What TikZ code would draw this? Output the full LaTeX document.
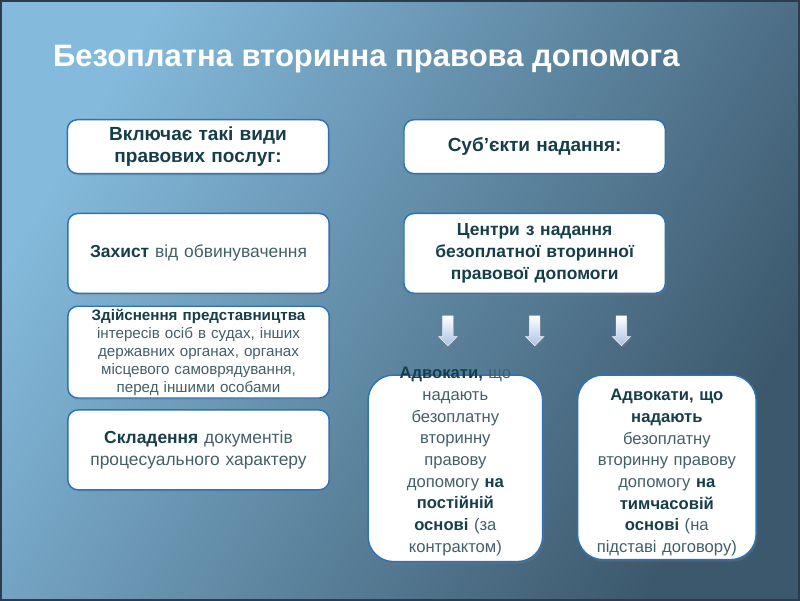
\documentclass[tikz,border=0pt]{standalone}
\usepackage{fontspec}
\setmainfont{Liberation Sans}
\usetikzlibrary{shapes.arrows,shadows}

\definecolor{bgLight}{RGB}{132,186,220}
\definecolor{bgDark}{RGB}{60,88,108}
\definecolor{frameDark}{RGB}{44,60,76}
\definecolor{boxBlue}{RGB}{44,114,184}
\definecolor{textTeal}{RGB}{66,96,106}
\definecolor{boldTeal}{RGB}{22,62,74}
\definecolor{arrowBlue}{RGB}{172,192,230}

\newcommand{\hb}[1]{\textbf{\color{boldTeal}#1}}

\begin{document}
\begin{tikzpicture}[
                x=0.75pt, y=-0.75pt,
                box/.style={draw=boxBlue, line width=1.1pt, fill=white, rounded corners=7.5pt,
                    align=center, text=textTeal, inner sep=2pt, text width=192pt,
                    minimum width=196.5pt, minimum height=60pt,
                    font=\fontsize{13.1}{16.5}\selectfont,
                    drop shadow={opacity=0.3, shadow xshift=1pt, shadow yshift=-1.5pt}},
                headbox/.style={box, minimum height=40.5pt, font=\fontsize{14.3}{16.5}\selectfont},
                bigbox/.style={draw=boxBlue, line width=1.1pt, fill=white, rounded corners=19pt,
                    drop shadow={opacity=0.3, shadow xshift=1pt, shadow yshift=-1.5pt}},
                bigtext/.style={align=center, text=textTeal, inner sep=0pt, text width=150pt,
                    font=\fontsize{12.5}{16.3}\selectfont},
                downarrow/.style={single arrow, shape border rotate=270, inner sep=3.75pt,
                    minimum height=22.5pt, minimum width=13.5pt,
                    single arrow head extend=3pt, single arrow tip angle=90,
                    top color=white, bottom color=arrowBlue, draw=white!80!arrowBlue, line width=0.4pt,
                    drop shadow={opacity=0.35, shadow xshift=1pt, shadow yshift=-1.5pt}}
            ]

                % Background of the slide
                \shade[top color=bgLight, bottom color=bgDark, shading angle=60] (0,0) rectangle (800,600);
                \draw[frameDark, line width=1.5pt] (0,0) rectangle (800,600);

                % Title
                \node[anchor=base west, text=white, inner sep=0pt, font=\fontsize{23.3}{27}\selectfont\bfseries]
                    (title) at (52,66) {Безоплатна вторинна правова допомога};

                % Left column: kinds of legal services
                \node[headbox] (kinds) at (197.5,146) {\hb{Включає такі види}\\ \hb{правових послуг:}};
                \node[box] (defence) at (198,253) {\hb{Захист} від обвинувачення};
                \node[box, minimum height=69pt, font=\fontsize{11.4}{13.5}\selectfont] (repr) at (198,352)
                    {\hb{Здійснення представництва}\\ інтересів осіб в судах, інших\\ державних органах, органах\\
                     місцевого самоврядування,\\ перед іншими особами};
                \node[box] (docs) at (198,450) {\hb{Складення} документів\\ процесуального характеру};

                % Right column: who provides it
                \node[headbox] (subjects) at (535,146) {\hb{Суб’єкти надання:}};
                \node[box] (centres) at (535,253)
                    {\hb{Центри з надання}\\ \hb{безоплатної вторинної}\\ \hb{правової допомоги}};

                % Arrows below the centres
                \node[downarrow] (arr1) at (448,328) {};
                \node[downarrow] (arr2) at (535,328) {};
                \node[downarrow] (arr3) at (622,328) {};

                % Advocates: permanent and temporary
                \node[bigbox, minimum width=131.25pt, minimum height=140.25pt] (perm) at (455.5,468.5) {};
                \node[bigtext, anchor=north] (permtext) at (455.5,367)
                    {\hb{Адвокати,} що\\ надають\\ безоплатну\\ вторинну\\ правову\\ допомогу \hb{на}\\
                     \hb{постійній}\\ \hb{основі} (за\\ контрактом)};
                \node[bigbox, minimum width=134.25pt, minimum height=138.75pt] (temp) at (667.5,467.5) {};
                \node[bigtext, anchor=north] (temptext) at (667.5,389)
                    {\hb{Адвокати, що}\\ \hb{надають}\\ безоплатну\\ вторинну правову\\ допомогу \hb{на}\\
                     \hb{тимчасовій}\\ \hb{основі} (на\\ підставі договору)};

            \end{tikzpicture}
\end{document}
